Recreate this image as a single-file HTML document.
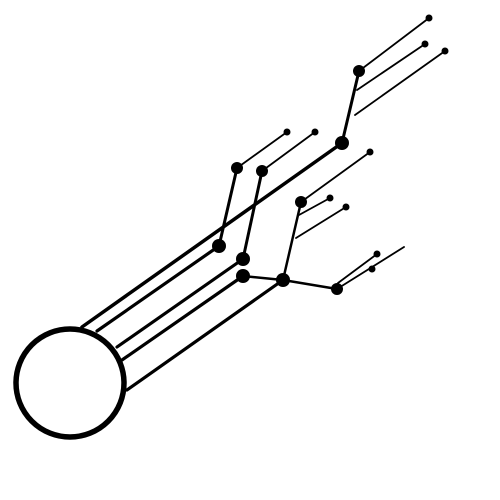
<!DOCTYPE html>
<html><head><meta charset="utf-8"><style>html,body{margin:0;padding:0;background:#fff}svg{display:block}</style></head>
<body>
<svg width="500" height="500" viewBox="0 0 500 500">
<g stroke="#000" stroke-linecap="round" fill="none">
<line x1="82" y1="327" x2="342" y2="143" stroke-width="3.5"/>
<line x1="97" y1="331" x2="219" y2="246" stroke-width="3.2"/>
<line x1="117" y1="347" x2="243" y2="259" stroke-width="3.2"/>
<line x1="122" y1="360" x2="243" y2="276" stroke-width="3.2"/>
<line x1="127" y1="390" x2="283" y2="280" stroke-width="3.2"/>
<line x1="342" y1="143" x2="359" y2="71" stroke-width="3"/>
<line x1="359" y1="71" x2="429" y2="18" stroke-width="1.8"/>
<line x1="357" y1="90" x2="425" y2="44" stroke-width="1.8"/>
<line x1="355" y1="115" x2="445" y2="51" stroke-width="1.8"/>
<line x1="219" y1="246" x2="237" y2="168" stroke-width="3"/>
<line x1="237" y1="168" x2="287" y2="132" stroke-width="1.8"/>
<line x1="243" y1="259" x2="262" y2="171" stroke-width="3"/>
<line x1="262" y1="171" x2="315" y2="132" stroke-width="1.8"/>
<line x1="243" y1="276" x2="283" y2="280" stroke-width="2.5"/>
<line x1="283" y1="280" x2="337" y2="289" stroke-width="2.5"/>
<line x1="283" y1="280" x2="301" y2="202" stroke-width="2.5"/>
<line x1="301" y1="202" x2="370" y2="152" stroke-width="1.8"/>
<line x1="299" y1="215" x2="330" y2="198" stroke-width="1.8"/>
<line x1="296" y1="238" x2="346" y2="207" stroke-width="1.8"/>
<line x1="338" y1="283" x2="377" y2="254" stroke-width="1.8"/>
<line x1="337" y1="289" x2="404" y2="247" stroke-width="1.8"/>
</g>
<g fill="#000">
<circle cx="342" cy="143" r="7"/>
<circle cx="359" cy="71" r="6"/>
<circle cx="219" cy="246" r="7"/>
<circle cx="243" cy="259" r="7"/>
<circle cx="243" cy="276" r="7"/>
<circle cx="283" cy="280" r="7"/>
<circle cx="337" cy="289" r="6"/>
<circle cx="237" cy="168" r="6"/>
<circle cx="262" cy="171" r="6"/>
<circle cx="301" cy="202" r="6"/>
<circle cx="429" cy="18" r="3.5"/>
<circle cx="425" cy="44" r="3.5"/>
<circle cx="445" cy="51" r="3.5"/>
<circle cx="287" cy="132" r="3.5"/>
<circle cx="315" cy="132" r="3.5"/>
<circle cx="370" cy="152" r="3.5"/>
<circle cx="330" cy="198" r="3.5"/>
<circle cx="346" cy="207" r="3.5"/>
<circle cx="377" cy="254" r="3.5"/>
<circle cx="372" cy="269" r="3.5"/>
</g>
<circle cx="70" cy="383" r="54" fill="#fff" stroke="#000" stroke-width="5.5"/>
</svg>
</body></html>
